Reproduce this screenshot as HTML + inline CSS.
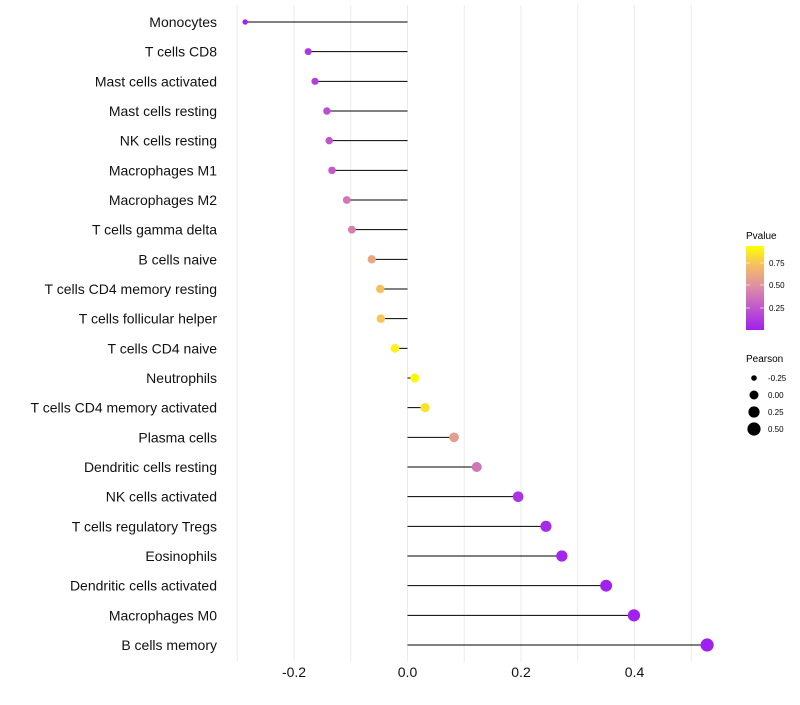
<!DOCTYPE html>
<html><head><meta charset="utf-8"><style>
body{margin:0;background:#fff}
svg text{font-family:"Liberation Sans",sans-serif}
</style></head><body>
<svg id="chart" width="800" height="700">
<defs><linearGradient id="pg" x1="0" y1="1" x2="0" y2="0">
<stop offset="0" stop-color="#a020f0"/><stop offset="0.5" stop-color="#dc8aa8"/><stop offset="0.78" stop-color="#f5c060"/><stop offset="1" stop-color="#ffff00"/></linearGradient></defs>
<g id="grid"></g><g id="marks"></g><g id="labels"></g><g id="xaxis"></g>
<g>
<text x="746" y="239" font-size="10">Pvalue</text>
<rect x="746" y="246" width="18" height="84" fill="url(#pg)"/>
<line x1="746" x2="750" y1="263" y2="263" stroke="#fff" stroke-opacity="0.6"/><line x1="760" x2="764" y1="263" y2="263" stroke="#fff" stroke-opacity="0.6"/>
<line x1="746" x2="750" y1="285" y2="285" stroke="#fff" stroke-opacity="0.6"/><line x1="760" x2="764" y1="285" y2="285" stroke="#fff" stroke-opacity="0.6"/>
<line x1="746" x2="750" y1="308" y2="308" stroke="#fff" stroke-opacity="0.6"/><line x1="760" x2="764" y1="308" y2="308" stroke="#fff" stroke-opacity="0.6"/>
<text x="769" y="266" font-size="8">0.75</text>
<text x="769" y="288" font-size="8">0.50</text>
<text x="769" y="311" font-size="8">0.25</text>
</g>
<g>
<text x="746" y="362" font-size="10">Pearson</text>
<circle cx="754" cy="378" r="2.8"/><text x="768" y="381" font-size="8">-0.25</text>
<circle cx="754" cy="395" r="4.5"/><text x="768" y="398" font-size="8">0.00</text>
<circle cx="754" cy="412" r="5.6"/><text x="768" y="415" font-size="8">0.25</text>
<circle cx="754" cy="429" r="6.6"/><text x="768" y="432" font-size="8">0.50</text>
</g>
</svg>
<script>
const cells=["Monocytes","T cells CD8","Mast cells activated","Mast cells resting","NK cells resting","Macrophages M1","Macrophages M2","T cells gamma delta","B cells naive","T cells CD4 memory resting","T cells follicular helper","T cells CD4 naive","Neutrophils","T cells CD4 memory activated","Plasma cells","Dendritic cells resting","NK cells activated","T cells regulatory  Tregs ","Eosinophils","Dendritic cells activated","Macrophages M0","B cells memory"];
const pearson=[-0.286,-0.175,-0.163,-0.142,-0.138,-0.133,-0.107,-0.098,-0.063,-0.048,-0.047,-0.022,0.013,0.031,0.082,0.122,0.195,0.244,0.272,0.35,0.399,0.528];
const pvalues=[0.02,0.12,0.15,0.22,0.25,0.28,0.42,0.45,0.65,0.78,0.8,0.95,0.97,0.9,0.6,0.4,0.1,0.05,0.03,0.01,0.01,0.0];
const xTicks=[-0.2,0.0,0.2,0.4];
const xTickLabels=["-0.2","0.0","0.2","0.4"];
const NS="http://www.w3.org/2000/svg";
const X=v=>407.5+v*567.5;
const Y=i=>22+i*(623/(cells.length-1));
function mk(t,a,p){const e=document.createElementNS(NS,t);for(const k in a)e.setAttribute(k,a[k]);p.appendChild(e);return e;}
function lerp(a,b,t){return a.map((x,i)=>Math.round(x+(b[i]-x)*t));}
const stops=[[0,[160,32,240]],[0.5,[220,138,168]],[0.78,[245,192,96]],[1,[255,255,0]]];
function col(p){for(let i=0;i<stops.length-1;i++){if(p<=stops[i+1][0]){const t=(p-stops[i][0])/(stops[i+1][0]-stops[i][0]);return "rgb("+lerp(stops[i][1],stops[i+1][1],t).join(",")+")";}}return "rgb(255,255,0)";}
function rad(v){const a=20+44*v;return Math.max(1.5,Math.sqrt(Math.max(a,2.25)));}
const grid=document.getElementById('grid'),marks=document.getElementById('marks'),labels=document.getElementById('labels'),xa=document.getElementById('xaxis');
for(let v=-0.3;v<=0.55;v+=0.1){const g=mk('line',{x1:X(v),x2:X(v),y1:5,y2:662,stroke:'#ebebeb','stroke-width':1},grid);

}
cells.forEach((c,i)=>{
const l=mk('line',{x1:X(0),x2:X(pearson[i]),y1:Y(i),y2:Y(i),stroke:'#000','stroke-width':1},marks);


const d=mk('circle',{cx:X(pearson[i]),cy:Y(i),r:rad(pearson[i]),fill:col(pvalues[i])},marks);


const t=mk('text',{x:217,y:Y(i)+5,'text-anchor':'end','font-size':14,fill:'#111'},labels);t.textContent=c;


});
xTicks.forEach((v,i)=>{const t=mk('text',{x:X(v),y:677,'text-anchor':'middle','font-size':14,fill:'#111'},xa);t.textContent=xTickLabels[i];

});
</script>
</body></html>
